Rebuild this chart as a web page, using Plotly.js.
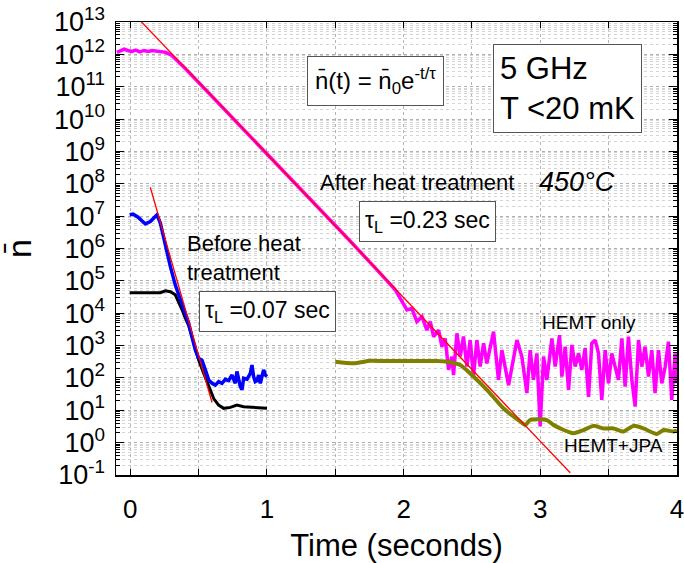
<!DOCTYPE html>
<html>
<head>
<meta charset="utf-8">
<script src="https://cdn.plot.ly/plotly-3.0.1.min.js"></script>
<style>html,body{margin:0;padding:0;background:#fff;}#chart{width:684px;height:563px;}</style>
</head>
<body>
<div id="chart"></div>
<script>
// ---- data ----
// After heat treatment, HEMT only (magenta)
const afterHemtX = [-0.098,-0.07,-0.045,-0.02,0.01,0.04,0.07,0.1,0.13,0.16,0.19,0.22,0.26,
  0.3,0.4,0.6,0.8,1.0,1.2,1.4,1.6,1.8,1.94,2.024,2.06,2.097,2.134,2.17,2.195,2.219,2.256,2.28,2.304,
  2.329,2.353,2.365,2.39,2.414,2.438,2.463,2.487,2.511,2.536,2.56,2.585,2.609,2.658,2.694,2.719,2.768,
  2.829,2.865,2.902,2.926,2.95,2.975,2.999,3.024,3.048,3.085,3.109,3.141,3.158,3.182,3.207,3.231,3.255,
  3.28,3.304,3.328,3.353,3.377,3.402,3.426,3.45,3.475,3.499,3.523,3.548,3.572,3.597,3.621,3.645,3.67,
  3.694,3.719,3.743,3.767,3.792,3.816,3.84,3.865,3.889,3.914,3.938,3.962,3.987,4.0];
const afterHemtY = [1.15e12,1.32e12,1.45e12,1.32e12,1.23e12,1.35e12,1.2e12,1.32e12,1.23e12,1.32e12,1.26e12,1.17e12,1.15e12,
  9.5e11,3.7e11,4.9e10,6.5e9,8.3e8,1.07e8,1.4e7,1.86e6,2.3e5,5.2e4,1.26e4,1.41e4,5.5e3,7.8e3,3.0e3,5.5e3,1.9e3,3.0e3,930,1660,
  178,457,123,2400,457,1900,224,1480,110,1480,224,1170,282,2700,87,724,60,
  1480,457,34,724,87,575,3.2,457,87,1660,224,2100,110,930,43,1050,224,
  575,178,830,26,1170,1480,575,21,724,68,575,224,87,1660,54,1900,87,
  13,1480,224,930,110,724,34,724,68,224,1320,21,575,68];

// After heat treatment, HEMT+JPA (olive)
const afterJpaX = [1.5,1.634,1.756,1.878,2.0,2.12,2.244,2.317,2.414,2.487,2.61,2.73,2.853,2.89,2.926,
  3.048,3.097,3.146,3.243,3.316,3.389,3.463,3.536,3.609,3.682,3.755,3.853,3.902,3.975,4.0];
const afterJpaY = [316,282,339,331,331,331,331,316,251,138,43,11.5,4.5,3.5,5.0,
  5.0,3.5,2.75,1.95,2.45,3.3,2.75,2.75,2.2,3.3,2.75,1.86,2.45,2.2,2.35];

// Before heat treatment (blue)
const beforeBlueX = [-0.005,0.02,0.054,0.08,0.11,0.146,0.17,0.195,0.22,0.256,0.293,0.329,0.366,0.402,0.427,
  0.451,0.476,0.5,0.524,0.549,0.573,0.598,0.622,0.646,0.671,0.695,0.719,0.744,0.768,0.78,0.805,0.817,
  0.829,0.854,0.878,0.89,0.902,0.914,0.927,0.939,0.951,0.975,0.988,1.0];
const beforeBlueY = [1.1e7,1.15e7,9.5e6,7.6e6,5.75e6,6.8e6,8.9e6,1.1e7,6.0e6,1.15e6,2.75e5,7.4e4,2.57e4,1.0e4,4.9e3,
  1860,724,407,355,178,87,68,60,77,68,91,83,123,68,158,54,43,
  98,91,138,251,110,77,83,123,68,178,123,110];

// Before heat treatment (black)
const beforeBlackX = [-0.005,0.05,0.1,0.15,0.22,0.256,0.293,0.329,0.354,0.378,0.402,0.427,0.463,0.5,0.537,
  0.573,0.61,0.646,0.683,0.732,0.78,0.829,0.902,1.0];
const beforeBlackY = [4.3e4,4.3e4,4.2e4,4.3e4,4.3e4,4.9e4,4.6e4,3.7e4,2.3e4,1.3e4,7.2e3,4.1e3,1260,355,138,
  54,23,14.5,11.5,12.3,14.5,12.9,12.3,11.5];

// exponential fits (red)
const fitBeforeX = [0.146, 0.598];
const fitBeforeY = [7.8e7, 17.4];
const fitAfterX = [0.073, 3.219];
const fitAfterY = [1.1e13, 0.117];

// axis ticks
const yTickVals = [1e-1,1e0,1e1,1e2,1e3,1e4,1e5,1e6,1e7,1e8,1e9,1e10,1e11,1e12,1e13];
const yTickText = ['10<sup>-1</sup>','10<sup>0</sup>','10<sup>1</sup>','10<sup>2</sup>','10<sup>3</sup>',
  '10<sup>4</sup>','10<sup>5</sup>','10<sup>6</sup>','10<sup>7</sup>','10<sup>8</sup>','10<sup>9</sup>',
  '10<sup>10</sup>','10<sup>11</sup>','10<sup>12</sup>','10<sup>13</sup>'];
const xTickVals = [0,1,2,3,4];
const xTickText = ['0','1','2','3','4'];

// minor y ticks 2..9 in each decade
const yMinorVals = [];
for (let i = 0; i < yTickVals.length - 1; i++) {
  for (let k = 2; k <= 9; k++) yMinorVals.push(yTickVals[i] * k);
}

const FONT = 'Liberation Sans, Arial, sans-serif';

const traces = [
  {x: afterHemtX, y: afterHemtY, mode: 'lines', line: {color: '#ff00ff', width: 3.5}, name: 'HEMT only'},
  {x: afterJpaX, y: afterJpaY, mode: 'lines', line: {color: '#808000', width: 4, shape: 'spline', smoothing: 0.6}, name: 'HEMT+JPA'},
  {x: beforeBlackX, y: beforeBlackY, mode: 'lines', line: {color: '#000000', width: 3}, name: 'before black'},
  {x: beforeBlueX, y: beforeBlueY, mode: 'lines', line: {color: '#0000ff', width: 3.5}, name: 'before blue'},
  {x: fitBeforeX, y: fitBeforeY, mode: 'lines', line: {color: '#ff0000', width: 1.3}, name: 'fit before'},
  {x: fitAfterX, y: fitAfterY, mode: 'lines', line: {color: '#ff0000', width: 1.3}, name: 'fit after'}
];

const base = {xref: 'paper', yref: 'paper', showarrow: false, xanchor: 'center', yanchor: 'middle'};
const boxAnn = Object.assign({}, base, {bgcolor: '#ffffff', bordercolor: '#555555', borderwidth: 1});

const layout = {
  width: 684, height: 563,
  margin: {l: 116, r: 7, t: 22, b: 88},
  paper_bgcolor: '#ffffff', plot_bgcolor: '#ffffff',
  showlegend: false,
  font: {family: FONT, color: '#000000'},
  xaxis: {
    range: [-0.105, 4.0005],
    tickmode: 'array', tickvals: xTickVals, ticktext: xTickText,
    ticks: 'inside', ticklen: 6, tickwidth: 1, tickcolor: '#000',
    showline: true, linecolor: '#000', linewidth: 1.5, mirror: 'allticks',
    showgrid: true, gridcolor: '#b5b5b5', griddash: 'dot', gridwidth: 1,
    minor: {dtick: 0.5, tick0: 0, ticks: 'inside', ticklen: 6, tickcolor: '#000', showgrid: true, gridcolor: '#b5b5b5', griddash: 'dot'},
    zeroline: false,
    tickfont: {size: 26, family: FONT},
    ticklabelstandoff: 10,
    ticklabeloverflow: 'allow',
    title: {text: 'Time (seconds)', font: {size: 31, family: FONT}, standoff: 12}
  },
  yaxis: {
    type: 'log', range: [-1, 13],
    tickmode: 'array', tickvals: yTickVals, ticktext: yTickText,
    ticks: 'inside', ticklen: 8, tickwidth: 1, tickcolor: '#000',
    showline: true, linecolor: '#000', linewidth: 1.5, mirror: 'allticks',
    showgrid: true, gridcolor: '#b0b0b0', griddash: 'dot', gridwidth: 1,
    minor: {tickmode: 'array', tickvals: yMinorVals, ticks: 'inside', ticklen: 4, tickcolor: '#000',
      showgrid: true, gridcolor: '#d4d4d4', griddash: 'dot', gridwidth: 1},
    zeroline: false,
    tickfont: {size: 27, family: FONT},
    ticklabelstandoff: 4,
    ticklabeloverflow: 'allow',
    title: {text: 'n\u0304', font: {size: 34, family: FONT}, standoff: 12}
  },
  annotations: [
    Object.assign({}, boxAnn, {x: 0.4617, y: 0.8698, text: 'n\u0304(t) = n\u0304<sub>0</sub>e<sup>-t/\u03c4</sup>',
      font: {size: 24, family: FONT}, borderpad: 7}),
    Object.assign({}, boxAnn, {x: 0.8057, y: 0.8543, text: '5 GHz<br>T &lt;20 mK', align: 'left',
      font: {size: 31, family: FONT}, borderpad: 6}),
    Object.assign({}, base, {x: 0.5374, y: 0.6446, text: 'After heat treatment', font: {size: 22, family: FONT}}),
    Object.assign({}, base, {x: 0.8209, y: 0.6468, text: '<i>450\u00b0C</i>', font: {size: 27, family: FONT}}),
    Object.assign({}, boxAnn, {x: 0.5544, y: 0.5585, text: '\u03c4<sub>L</sub> =0.23 sec',
      font: {size: 23, family: FONT}, borderpad: 5}),
    Object.assign({}, base, {x: 0.123, xanchor: 'left', y: 0.478, align: 'left',
      text: 'Before heat<br>treatment', font: {size: 22, family: FONT}}),
    Object.assign({}, boxAnn, {x: 0.27, y: 0.362, text: '\u03c4<sub>L</sub> =0.07 sec',
      font: {size: 23, family: FONT}, borderpad: 5}),
    Object.assign({}, base, {x: 0.8436, y: 0.3366, text: 'HEMT only', font: {size: 19, family: FONT}}),
    Object.assign({}, base, {x: 0.8877, y: 0.0662, text: 'HEMT+JPA', font: {size: 19, family: FONT}})
  ]
};

Plotly.newPlot('chart', traces, layout, {displayModeBar: false, staticPlot: true});
</script>
</body>
</html>
